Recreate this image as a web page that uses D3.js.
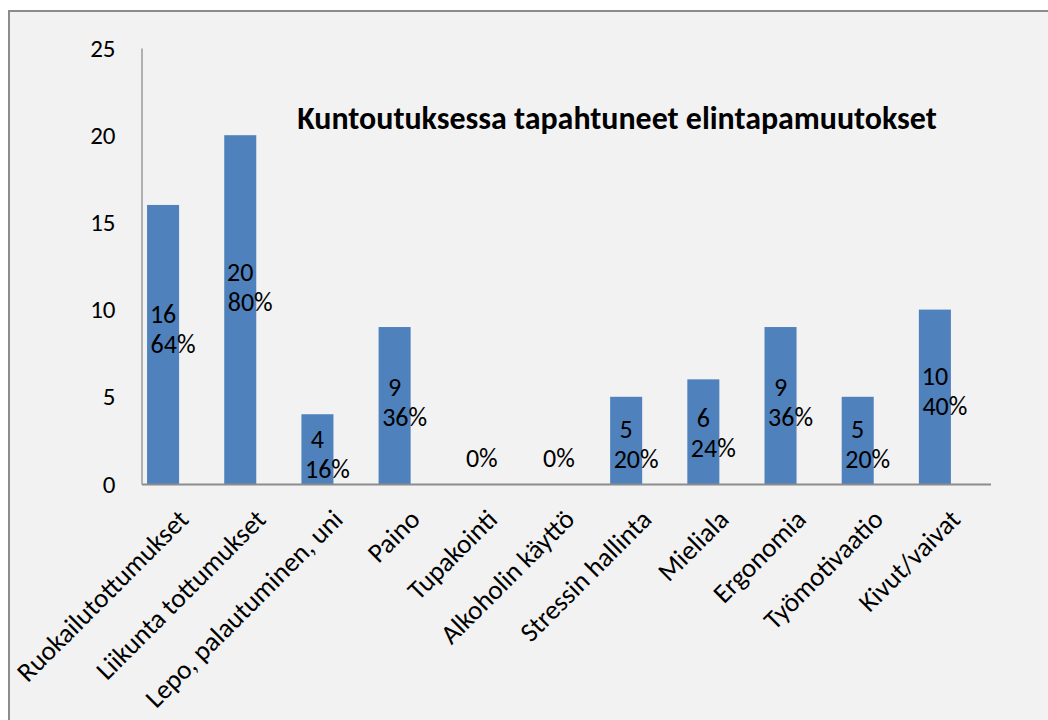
<!DOCTYPE html>
<html>
<head>
<meta charset="utf-8">
<script src="https://cdn.jsdelivr.net/npm/d3@7"></script>
<style>
  body { margin: 0; background: #fff; }
  text { font-family: Carlito, Calibri, Lato, sans-serif; fill: #000; }
</style>
</head>
<body>
<script>
const categories = ['Ruokailutottumukset', 'Liikunta tottumukset', 'Lepo, palautuminen, uni', 'Paino',
  'Tupakointi', 'Alkoholin käyttö', 'Stressin hallinta', 'Mieliala', 'Ergonomia', 'Työmotivaatio', 'Kivut/vaivat'];
const counts = [16, 20, 4, 9, 0, 0, 5, 6, 9, 5, 10];
const percents = [64, 80, 16, 36, 0, 0, 20, 24, 36, 20, 40];
const yTicks = [0, 5, 10, 15, 20, 25];
const title = 'Kuntoutuksessa tapahtuneet elintapamuutokset';

const width = 1048, height = 720;
const svg = d3.select('body').append('svg')
  .attr('width', width)
  .attr('height', height);

// chart area background + frame (only top and left edge visible)
svg.append('rect')
  .attr('x', 0).attr('y', 0).attr('width', width).attr('height', height)
  .attr('fill', '#fff');
svg.append('rect')
  .attr('x', 9).attr('y', 11).attr('width', width).attr('height', height)
  .attr('fill', '#f2f2f2')
  .attr('stroke', '#8c8c8c')
  .attr('stroke-width', 2);

const x = d3.scaleBand()
  .domain(categories)
  .range([141.5, 990.5]);

const y = d3.scaleLinear()
  .domain([0, 25])
  .range([484, 48]);

const bw = x.bandwidth();
const barX = c => x(c) + bw * 0.072;
const barW = bw * 0.415;

// bars
svg.append('g')
  .selectAll('rect')
  .data(categories)
  .join('rect')
  .attr('x', d => barX(d))
  .attr('width', barW)
  .attr('y', (d, i) => y(counts[i]))
  .attr('height', (d, i) => y(0) - y(counts[i]))
  .attr('fill', '#4f81bd');

// y axis
const yAxis = svg.append('g')
  .attr('transform', 'translate(141.5,0)')
  .call(d3.axisLeft(y).tickValues(yTicks).tickSize(0).tickPadding(26));
yAxis.select('.domain').attr('stroke', '#9a9a9a').attr('stroke-width', 1.5);
yAxis.selectAll('text').style('font-size', '25px');

// x axis
const xAxis = svg.append('g')
  .attr('transform', `translate(0,${y(0)})`)
  .call(d3.axisBottom(x).tickSize(0).tickFormat(''));
xAxis.select('.domain').attr('stroke', '#8c8c8c').attr('stroke-width', 2);

svg.append('g')
  .selectAll('text')
  .data(categories)
  .join('text')
  .attr('text-anchor', 'end')
  .attr('transform', d => `translate(${x(d) + bw / 2 + 10},521) rotate(-45)`)
  .style('font-size', '27px')
  .text(d => d);

// data labels: count above, share below
const labels = svg.append('g').style('font-size', '26px');
categories.forEach((c, i) => {
  const cx = barX(c) + barW / 2;
  const v = counts[i];
  const cy = v > 0 ? y(v * 0.6) - 3 : y(0);
  if (v > 0) {
    labels.append('text')
      .attr('x', cx).attr('y', cy)
      .attr('text-anchor', 'middle')
      .attr('dominant-baseline', 'central')
      .text(v);
  }
  labels.append('text')
    .attr('x', cx + 10)
    .attr('y', v > 0 ? cy + 30 : cy - 26)
    .attr('text-anchor', 'middle')
    .attr('dominant-baseline', 'central')
    .text(percents[i] + '%');
});

// title
const t = svg.append('text')
  .attr('x', 617).attr('y', 129)
  .attr('text-anchor', 'middle')
  .style('font-weight', 'bold')
  .style('font-size', '28px')
  .text(title);
const tw = t.node().getComputedTextLength();
t.style('font-size', (28 * 640 / tw) + 'px');
</script>
</body>
</html>
